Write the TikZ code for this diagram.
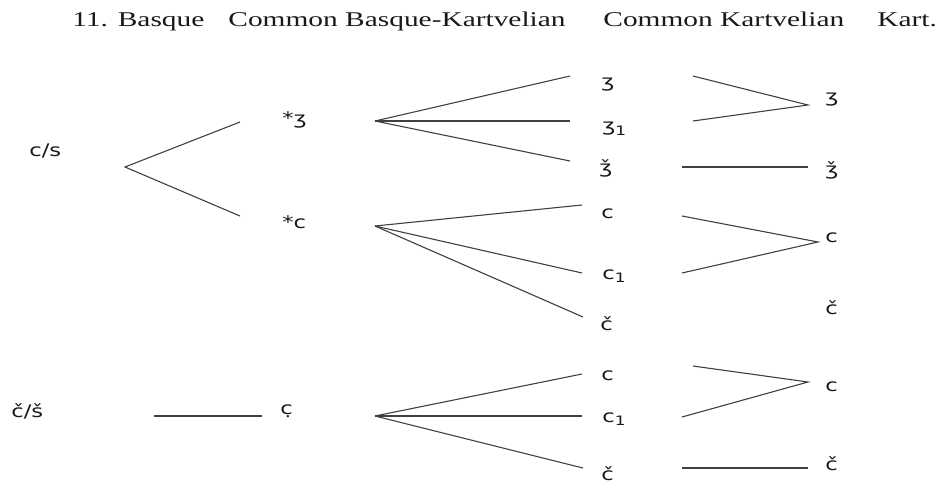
\documentclass[tikz,border=0pt]{standalone}
\usepackage{fontspec}
\usepackage{tikz}
\usetikzlibrary{positioning}
\newfontfamily\hdrfont[FakeStretch=1.4]{Liberation Serif}
\newfontfamily\lblfont[FakeStretch=1.3]{DejaVu Sans}
\newcommand{\sbone}{\raisebox{-0.35ex}{\fontsize{6.5}{7}\lblfont 1}}

\begin{document}
\begin{tikzpicture}[x=0.5pt, y=-0.5pt,
  hdr/.style={anchor=base west, inner sep=0pt, font=\fontsize{10.5}{12}\hdrfont, text=black!90},
  lbl/.style={anchor=west, inner sep=0pt, font=\fontsize{8.7}{10}\lblfont, text=black!90},
  br/.style={draw=black!75, line width=0.55pt}]
  \useasboundingbox (0,0) rectangle (942,483);

  %% Column headers
  \node[hdr] (hbasque) at (72,26)  {11. Basque};
  \node[hdr] (hcbk)    at (228,26) {Common Basque-Kartvelian};
  \node[hdr] (hck)     at (603,26) {Common Kartvelian};
  \node[hdr] (hkart)   at (877,26) {Kart.};

  %% Basque
  \node[lbl] (bcs) at (29,151) {c/s};
  \node[lbl] (bcs2) at (11,411) {č/š};

  %% Common Basque-Kartvelian
  \node[lbl] (pzh) at (282,120) {*ʒ};
  \node[lbl] (pc)  at (282,222) {*c};
  \node[lbl] (pcd) at (280,411) {c̣};

  %% Common Kartvelian
  \node[lbl] (kzh)   at (601,85)  {ʒ};
  \node[lbl] (kzhi)  at (602,129) {ʒ\sbone};
  \node[lbl] (kzhc)  at (599,168) {ǯ};
  \node[lbl] (kc)    at (601,214) {c};
  \node[lbl] (kci)   at (602,276) {c\sbone};
  \node[lbl] (kch)   at (600,324) {č};
  \node[lbl] (kc2)   at (601,376) {c};
  \node[lbl] (kci2)  at (602,419) {c\sbone};
  \node[lbl] (kch2)  at (601,474) {č};

  %% Kartvelian
  \node[lbl] (zh)  at (825,100) {ʒ};
  \node[lbl] (zhc) at (825,170) {ǯ};
  \node[lbl] (c)   at (825,238) {c};
  \node[lbl] (ch)  at (825,308) {č};
  \node[lbl] (c2)  at (825,387) {c};
  \node[lbl] (ch2) at (825,464) {č};

  %% branch points
  \coordinate (bfork) at (125,167);
  \coordinate (bzh) at (240,122);
  \coordinate (bc)  at (240,216);
  \coordinate (bl)  at (154,416);
  \coordinate (br)  at (262,416);
  \coordinate (zfork) at (375,121);
  \coordinate (cfork) at (375,226);
  \coordinate (dfork) at (375,416);
  \coordinate (z1) at (570,76);  \coordinate (z2) at (570,121); \coordinate (z3) at (570,161);
  \coordinate (c1) at (582,205); \coordinate (c2e) at (582,273); \coordinate (c3) at (583,317);
  \coordinate (d1) at (582,374); \coordinate (d2) at (582,416); \coordinate (d3) at (583,468);
  \coordinate (kz1) at (693,76);  \coordinate (kz2) at (693,121); \coordinate (kzj) at (808,105);
  \coordinate (kzc) at (682,167); \coordinate (kzce) at (808,167);
  \coordinate (kc1) at (682,216); \coordinate (kc2e) at (682,273); \coordinate (kcj) at (818,242);
  \coordinate (kd1) at (693,366); \coordinate (kd2) at (682,417); \coordinate (kdj) at (808,382);
  \coordinate (kdc) at (682,468); \coordinate (kdce) at (808,468);

  %% Basque -> Common Basque-Kartvelian
  \draw[br] (bzh) -- (bfork) -- (bc);
  \draw[br] (bl) -- (br);

  %% Common Basque-Kartvelian -> Common Kartvelian
  \foreach \e in {z1,z2,z3} \draw[br] (zfork) -- (\e);
  \foreach \e in {c1,c2e,c3} \draw[br] (cfork) -- (\e);
  \foreach \e in {d1,d2,d3} \draw[br] (dfork) -- (\e);

  %% Common Kartvelian -> Kartvelian
  \draw[br] (kz1) -- (kzj) -- (kz2);
  \draw[br] (kzc) -- (kzce);
  \draw[br] (kc1) -- (kcj) -- (kc2e);
  \draw[br] (kd1) -- (kdj) -- (kd2);
  \draw[br] (kdc) -- (kdce);
\end{tikzpicture}
\end{document}
